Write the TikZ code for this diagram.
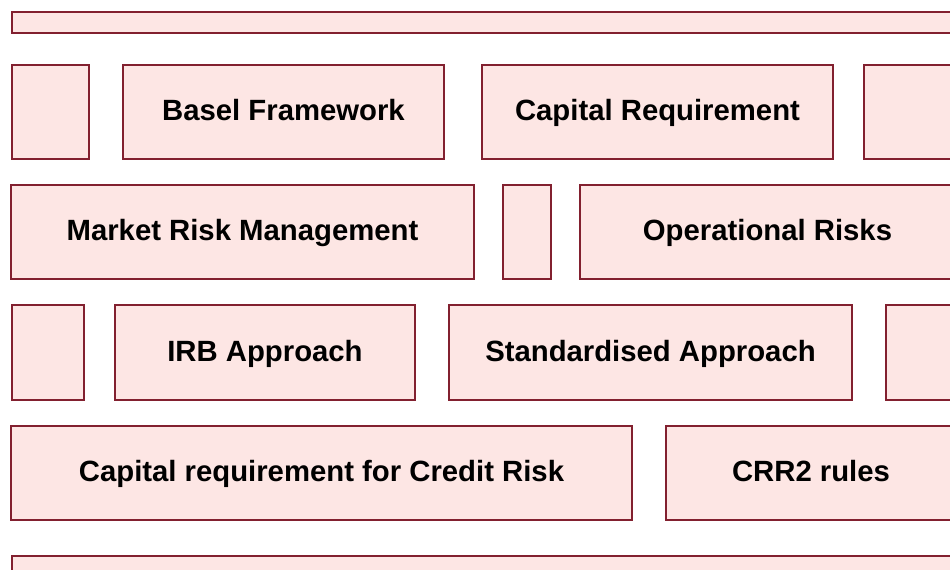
\documentclass[tikz,border=0pt]{standalone}
\usepackage{fontspec}
\setmainfont{Liberation Sans}
\definecolor{brickfill}{HTML}{FDE6E4}
\definecolor{brickline}{HTML}{82202F}
\begin{document}
\begin{tikzpicture}[x=1pt,y=-1pt,
  brick/.style={rectangle, draw=brickline, fill=brickfill, line width=2.4pt,
    inner sep=0pt, font=\bfseries\fontsize{29.3}{32}\selectfont, text=black,
    text height=21pt, text depth=4pt},
  rowA/.style={brick, minimum height=94pt}]
\useasboundingbox (0,0) rectangle (950,570);
\clip (0,0) rectangle (950,570);
% top bar
\node[brick, minimum width=948pt, minimum height=21pt, text height=0pt, text depth=0pt] (topbar) at (486,22.5) {};
% row 1
\node[rowA, minimum width=77pt] (r1a) at (50.5,112) {};
\node[rowA, minimum width=321pt] (basel) at (283.5,112) {Basel Framework};
\node[rowA, minimum width=351pt] (capreq) at (657.5,112) {Capital Requirement};
\node[rowA, minimum width=100pt] (r1d) at (914,112) {};
% row 2
\node[rowA, minimum width=463pt] (market) at (242.5,232) {Market Risk Management};
\node[rowA, minimum width=48pt] (r2b) at (527,232) {};
\node[rowA, minimum width=375pt] (oprisk) at (767.5,232) {Operational Risks};
% row 3
\node[rowA, minimum width=72pt, minimum height=95pt] (r3a) at (48,352.5) {};
\node[rowA, minimum width=300pt, minimum height=95pt] (irb) at (265,352.5) {IRB Approach};
\node[rowA, minimum width=403pt, minimum height=95pt] (std) at (650.5,352.5) {Standardised Approach};
\node[rowA, minimum width=80pt, minimum height=95pt] (r3d) at (926,352.5) {};
% row 4
\node[rowA, minimum width=621pt] (credit) at (321.5,473) {Capital requirement for Credit Risk};
\node[rowA, minimum width=290pt] (crr2) at (811,473) {CRR2 rules};
% bottom bar
\node[brick, minimum width=948pt, minimum height=40pt, text height=0pt, text depth=0pt] (botbar) at (486,576) {};
\end{tikzpicture}
\end{document}
